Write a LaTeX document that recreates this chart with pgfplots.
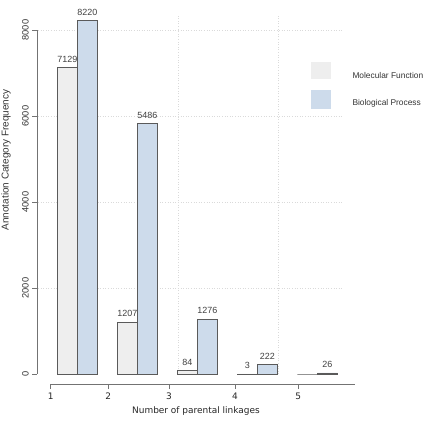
\documentclass[border=0pt]{standalone}
\usepackage{pgfplots}
\pgfplotsset{compat=1.18}
\usepackage{fontspec}
\setmainfont{Liberation Sans}
\newfontfamily\dejavu{DejaVu Sans}
\definecolor{mfcol}{RGB}{238,238,238}
\definecolor{bpcol}{RGB}{205,219,235}
\definecolor{edge}{RGB}{90,90,90}
\definecolor{axgray}{RGB}{115,115,115}
\definecolor{gridcol}{RGB}{218,218,218}
\begin{document}
\begin{tikzpicture}
\useasboundingbox (0,0) rectangle (428bp,-423bp);
\begin{axis}[
  at={(37.3bp,-384bp)}, anchor=south west,
  scale only axis, width=305.7bp, height=369bp,
  xmin=0, xmax=15.285, ymin=-232.6, ymax=8349,
  clip=false,
  axis line style={draw=none},
  xtick={0.67,3.55,6.59,9.89,13.04},
  xticklabels={1,2,3,4,5},
  ytick={0,2000,4000,6000,8000},
  /pgf/number format/assume math mode=true,
  /pgf/number format/1000 sep={},
  scaled y ticks=false,
  xtick pos=left, ytick pos=left,
  tick align=outside,
  major tick length=5bp,
  tick style={axgray, line width=0.75bp},
  xticklabel style={font=\dejavu\fontsize{9}{10}\selectfont, text=black!85},
  yticklabel style={font=\fontsize{9.3}{11}\selectfont, text=black!80, rotate=90, anchor=south},
  xlabel={\dejavu\fontsize{9}{10}\selectfont Number of parental linkages},
  xlabel style={at={(axis description cs:0.519,0)}, anchor=base, yshift=-29bp, text=black!85},
]
% grid
\foreach \yy in {2000,4000,6000,8000}{
  \edef\tmp{\noexpand\draw[gridcol, dotted, line width=0.6bp] (axis cs:0.035,\yy) -- (axis cs:15.285,\yy);}\tmp
}
\draw[gridcol, dotted, line width=0.6bp] (axis cs:7.045,0) -- (axis cs:7.045,8349);
\draw[gridcol, dotted, line width=0.6bp] (axis cs:12.045,0) -- (axis cs:12.045,8349);
% axes lines
\draw[axgray, line width=0.75bp] (axis cs:0,0) -- (axis cs:0,8000);
\draw[axgray, line width=0.75bp] (axis cs:0.67,-232.6) -- (axis cs:15.88,-232.6);
% Molecular Function
\addplot[ybar, bar width=1, bar shift=0pt, draw=edge, line width=0.7bp, fill=mfcol,
  point meta=explicit symbolic, nodes near coords,
  every node near coord/.append style={anchor=south, font=\fontsize{9}{10}\selectfont, text=black!75, yshift=1.5bp}]
  coordinates {(1.5,7129) [7129] (4.5,1207) [1207] (7.5,84) [84] (10.5,3) [3] (13.5,0) [{}]};
% Biological Process
\addplot[ybar, bar width=1, bar shift=0pt, draw=edge, line width=0.7bp, fill=bpcol,
  point meta=explicit symbolic, nodes near coords,
  every node near coord/.append style={anchor=south, font=\fontsize{9}{10}\selectfont, text=black!75, yshift=1.5bp}]
  coordinates {(2.5,8220) [8220] (5.5,5830) [5486] (8.5,1276) [1276] (11.5,222) [222] (14.5,26) [26]};
\end{axis}
% y label
\node[rotate=90, anchor=base, font=\fontsize{10}{12}\selectfont, text=black!80] at (8.5bp,-160bp) {Annotation Category Frequency};
% legend
\fill[mfcol] (310.7bp,-62.3bp) rectangle (331bp,-79.3bp);
\fill[bpcol] (310.7bp,-90bp) rectangle (331bp,-109bp);
\node[anchor=base west, inner sep=0pt, font=\fontsize{8.4}{10}\selectfont, text=black!80] at (352.3bp,-78bp) {Molecular Function};
\node[anchor=base west, inner sep=0pt, font=\fontsize{8.4}{10}\selectfont, text=black!80] at (352.3bp,-105bp) {Biological Process};
\end{tikzpicture}
\end{document}
